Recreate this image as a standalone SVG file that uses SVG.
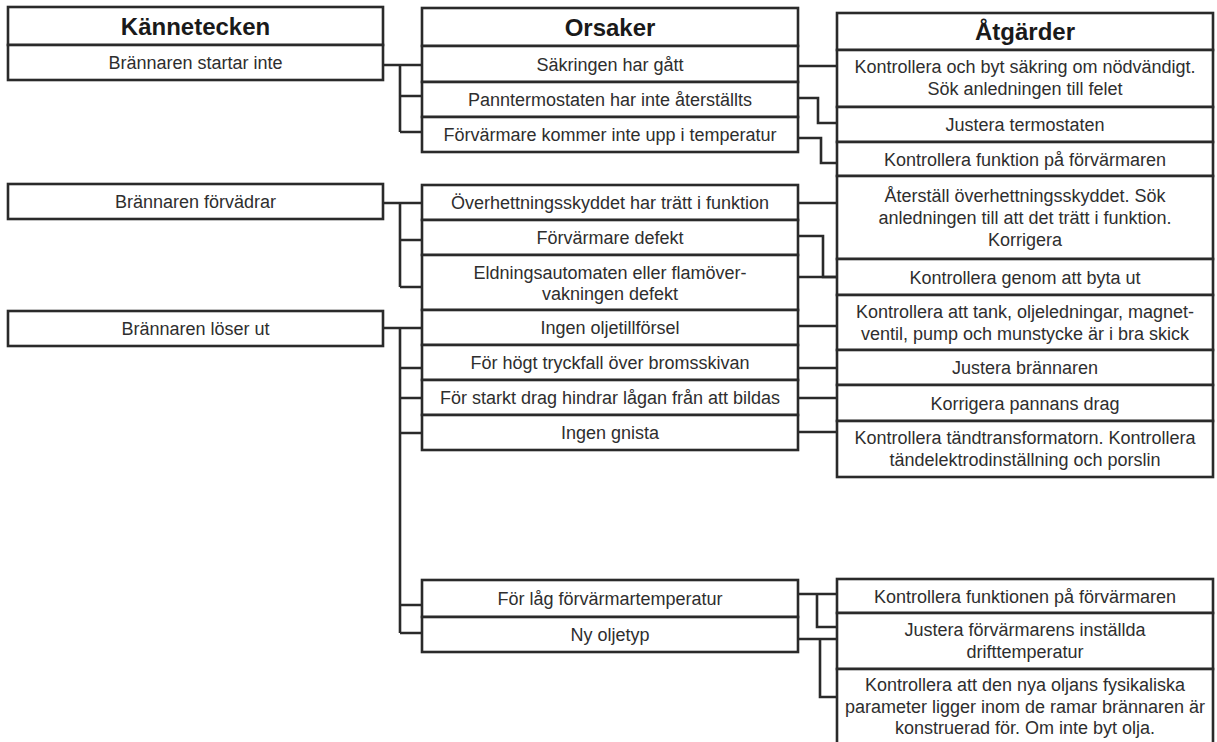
<svg xmlns="http://www.w3.org/2000/svg" width="1217" height="742" viewBox="0 0 1217 742">
<style>
.box{fill:#fff;stroke:#2a2a2a;stroke-width:2.6}
.t{font-family:"Liberation Sans",Arial,sans-serif;font-size:18px;fill:#2e2e2e;text-anchor:middle}
.h{font-family:"Liberation Sans",Arial,sans-serif;font-size:24px;font-weight:bold;fill:#1a1a1a;text-anchor:middle}
.c{fill:none;stroke:#2a2a2a;stroke-width:2.6}
</style>
<rect width="1217" height="742" fill="#fff"/>
<g id="connectors">
<path class="c" d="M383,65 H422 M400,65 V132 M400,96 H422 M400,132 H422"/>
<path class="c" d="M383,203 H422 M400,203 V287 M400,240 H422 M400,287 H422"/>
<path class="c" d="M383,328 H422 M400,328 V633 M400,368 H422 M400,398 H422 M400,433 H422 M400,605 H422 M400,633 H422"/>
<path class="c" d="M798,66 H837"/>
<path class="c" d="M798,98 H818 V123 H837"/>
<path class="c" d="M798,138 H821 V163 H837"/>
<path class="c" d="M798,203 H837"/>
<path class="c" d="M798,236 H823 V277 H837"/>
<path class="c" d="M798,277 H837"/>
<path class="c" d="M798,326 H837"/>
<path class="c" d="M798,368 H837"/>
<path class="c" d="M798,398 H837"/>
<path class="c" d="M798,432 H837"/>
<path class="c" d="M798,594 H837 M817,594 V627 H837"/>
<path class="c" d="M798,639 H837 M820,639 V697 H837"/>
</g>
<g id="hdr-kannetecken"><rect class="box" x="8" y="7" width="375" height="38"/><text class="h" x="195.5" y="34.5">Kännetecken</text></g>
<g id="k1"><rect class="box" x="8" y="45" width="375" height="35"/><text class="t" x="195.5" y="69">Brännaren startar inte</text></g>
<g id="k2"><rect class="box" x="8" y="184" width="375" height="35"/><text class="t" x="195.5" y="208">Brännaren förvädrar</text></g>
<g id="k3"><rect class="box" x="8" y="311" width="375" height="35"/><text class="t" x="195.5" y="335">Brännaren löser ut</text></g>

<g id="hdr-orsaker"><rect class="box" x="422" y="8" width="376" height="38"/><text class="h" x="610" y="35.5">Orsaker</text></g>
<g id="o1"><rect class="box" x="422" y="46" width="376" height="36"/><text class="t" x="610" y="70.5">Säkringen har gått</text></g>
<g id="o2"><rect class="box" x="422" y="82" width="376" height="35"/><text class="t" x="610" y="106">Panntermostaten har inte återställts</text></g>
<g id="o3"><rect class="box" x="422" y="117" width="376" height="35"/><text class="t" x="610" y="141">Förvärmare kommer inte upp i temperatur</text></g>
<g id="o4"><rect class="box" x="422" y="185" width="376" height="35"/><text class="t" x="610" y="209">Överhettningsskyddet har trätt i funktion</text></g>
<g id="o5"><rect class="box" x="422" y="220" width="376" height="35"/><text class="t" x="610" y="244">Förvärmare defekt</text></g>
<g id="o6"><rect class="box" x="422" y="255" width="376" height="55"/><text class="t" x="610" y="279">Eldningsautomaten eller flamöver-</text><text class="t" x="610" y="300">vakningen defekt</text></g>
<g id="o7"><rect class="box" x="422" y="310" width="376" height="35"/><text class="t" x="610" y="334">Ingen oljetillförsel</text></g>
<g id="o8"><rect class="box" x="422" y="345" width="376" height="35"/><text class="t" x="610" y="369">För högt tryckfall över bromsskivan</text></g>
<g id="o9"><rect class="box" x="422" y="380" width="376" height="35"/><text class="t" x="610" y="404">För starkt drag hindrar lågan från att bildas</text></g>
<g id="o10"><rect class="box" x="422" y="415" width="376" height="35"/><text class="t" x="610" y="439">Ingen gnista</text></g>
<g id="o11"><rect class="box" x="422" y="580" width="376" height="37"/><text class="t" x="610" y="605">För låg förvärmartemperatur</text></g>
<g id="o12"><rect class="box" x="422" y="617" width="376" height="35"/><text class="t" x="610" y="641">Ny oljetyp</text></g>

<g id="hdr-atgarder"><rect class="box" x="837" y="13" width="376" height="37"/><text class="h" x="1025" y="40">Åtgärder</text></g>
<g id="a1"><rect class="box" x="837" y="50" width="376" height="57"/><text class="t" x="1025" y="73">Kontrollera och byt säkring om nödvändigt.</text><text class="t" x="1025" y="95">Sök anledningen till felet</text></g>
<g id="a2"><rect class="box" x="837" y="107" width="376" height="35"/><text class="t" x="1025" y="131">Justera termostaten</text></g>
<g id="a3"><rect class="box" x="837" y="142" width="376" height="34"/><text class="t" x="1025" y="165.5">Kontrollera funktion på förvärmaren</text></g>
<g id="a4"><rect class="box" x="837" y="176" width="376" height="83"/><text class="t" x="1025" y="202">Återställ överhettningsskyddet. Sök</text><text class="t" x="1025" y="224">anledningen till att det trätt i funktion.</text><text class="t" x="1025" y="246">Korrigera</text></g>
<g id="a5"><rect class="box" x="837" y="259" width="376" height="36"/><text class="t" x="1025" y="283.5">Kontrollera genom att byta ut</text></g>
<g id="a6"><rect class="box" x="837" y="295" width="376" height="55"/><text class="t" x="1025" y="318">Kontrollera att tank, oljeledningar, magnet-</text><text class="t" x="1025" y="340">ventil, pump och munstycke är i bra skick</text></g>
<g id="a7"><rect class="box" x="837" y="350" width="376" height="35"/><text class="t" x="1025" y="374">Justera brännaren</text></g>
<g id="a8"><rect class="box" x="837" y="385" width="376" height="36"/><text class="t" x="1025" y="409.5">Korrigera pannans drag</text></g>
<g id="a9"><rect class="box" x="837" y="421" width="376" height="56"/><text class="t" x="1025" y="444">Kontrollera tändtransformatorn. Kontrollera</text><text class="t" x="1025" y="466">tändelektrodinställning och porslin</text></g>
<g id="a10"><rect class="box" x="837" y="579" width="376" height="34"/><text class="t" x="1025" y="602.5">Kontrollera funktionen på förvärmaren</text></g>
<g id="a11"><rect class="box" x="837" y="613" width="376" height="56"/><text class="t" x="1025" y="636">Justera förvärmarens inställda</text><text class="t" x="1025" y="658">drifttemperatur</text></g>
<g id="a12"><rect class="box" x="837" y="669" width="376" height="90"/><text class="t" x="1025" y="691">Kontrollera att den nya oljans fysikaliska</text><text class="t" x="1025" y="713">parameter ligger inom de ramar brännaren är</text><text class="t" x="1025" y="734">konstruerad för. Om inte byt olja.</text></g>
</svg>
